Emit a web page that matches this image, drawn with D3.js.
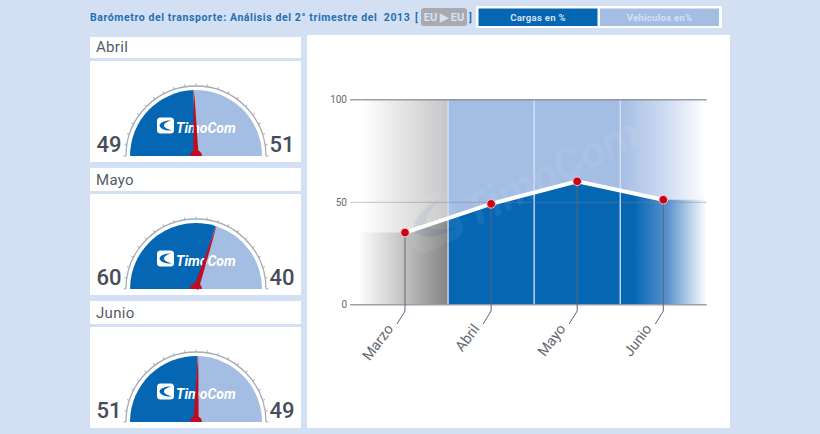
<!DOCTYPE html>
<html>
<head>
<meta charset="utf-8">
<title>Barómetro del transporte</title>
<script src="https://d3js.org/d3.v7.min.js"></script>
<style>
    html, body { margin: 0; padding: 0; background: #d3dff2; }
    svg { display: block; }
    text { font-family: Roboto, "Open Sans", sans-serif; }
</style>
</head>
<body>
<div id="chart"></div>
<script>
(function () {
    "use strict";

    var months = ["Marzo", "Abril", "Mayo", "Junio"],
        cargas = [35, 49, 60, 51],
        gaugeMonths = ["Abril", "Mayo", "Junio"],
        gaugeCargas = [49, 60, 51],
        gaugeVehiculos = [51, 40, 49],
        yTicks = [0, 50, 100],
        blue = "#0567b4",
        lightBlue = "#a4bde3",
        svg = d3.select("#chart").append("svg").attr("width", 820).attr("height", 434),
        defs = svg.append("defs"),
        needleAngle = d3.scaleLinear().domain([0, 100]).range([-90, 90]),
        x = d3.scalePoint().domain(months).range([405, 663.3]),
        y = d3.scaleLinear().domain([0, 100]).range([304.3, 99.3]),
        bandEdge = x.step() / 2;

    function gradient(id, x1, x2, stops) {
        var g = defs.append("linearGradient").attr("id", id)
            .attr("gradientUnits", "userSpaceOnUse")
            .attr("x1", x1).attr("x2", x2).attr("y1", 0).attr("y2", 0);
        stops.forEach(function (s) {
            g.append("stop").attr("offset", s[0]).attr("stop-color", s[1]);
        });
    }

    function logo(g, dx, baseline, scale, opacity) {
        var l = g.append("g").attr("transform", "translate(" + dx + "," + baseline + ") scale(" + scale + ")").attr("opacity", opacity);
        l.append("rect").attr("x", -19).attr("y", -15.5).attr("width", 17).attr("height", 16)
            .attr("rx", 3.5).attr("fill", "#fff");
        l.append("path").attr("d", "M-5,-12.5C-11,-13 -16,-10.5 -16.5,-7.5C-16,-4 -10,-2 -4,-2.5C-9,-4 -12,-5.5 -12,-7.5C-12,-9.5 -9,-11.5 -5,-12.5Z")
            .attr("fill", blue);
        l.append("text").attr("x", 0).attr("y", 0).attr("fill", "#fff")
            .attr("font-size", 14).attr("font-weight", 700).attr("font-style", "italic")
            .text("TimoCom");
    }

    // top strip
    svg.append("text").attr("x", 90).attr("y", 21).attr("fill", "#1f6fb2")
        .attr("font-size", 10.5).attr("font-weight", 700).attr("letter-spacing", 0.6)
        .attr("xml:space", "preserve")
        .text("Barómetro del transporte: Análisis del 2° trimestre del  2013");
    svg.append("text").attr("x", 415).attr("y", 21).attr("fill", "#1f6fb2")
        .attr("font-size", 10).attr("font-weight", 700).text("[");
    svg.append("rect").attr("x", 421).attr("y", 8).attr("width", 46).attr("height", 18)
        .attr("rx", 3).attr("fill", "#a8aab0");
    svg.append("text").attr("x", 444).attr("y", 21).attr("text-anchor", "middle").attr("fill", "#d8e2f2")
        .attr("font-size", 11).attr("font-weight", 700).text("EU ▶ EU");
    svg.append("text").attr("x", 469).attr("y", 21).attr("fill", "#1f6fb2")
        .attr("font-size", 10).attr("font-weight", 700).text("]");

    svg.append("rect").attr("x", 476).attr("y", 6).attr("width", 246).attr("height", 22).attr("fill", "#fff");
    svg.append("rect").attr("x", 478.5).attr("y", 8.5).attr("width", 119).attr("height", 17.5).attr("fill", blue);
    svg.append("rect").attr("x", 600).attr("y", 8.5).attr("width", 119).attr("height", 17.5).attr("fill", lightBlue);
    svg.append("text").attr("x", 538).attr("y", 21).attr("text-anchor", "middle").attr("fill", "#d5e1f2")
        .attr("font-size", 9.5).attr("font-weight", 700).attr("letter-spacing", 0.3).text("Cargas en %");
    svg.append("text").attr("x", 659.5).attr("y", 21).attr("text-anchor", "middle").attr("fill", "#d5e1f2")
        .attr("font-size", 9.5).attr("font-weight", 700).attr("letter-spacing", 0.3).text("Vehiculos en%");

    // gauges
    gaugeMonths.forEach(function (month, i) {
        var baseY = 156 + i * 133,
            top = baseY - (i ? 121 : 119),
            angle = needleAngle(gaugeCargas[i]),
            rad = angle * Math.PI / 180,
            g,
            arc = d3.arc();

        svg.append("rect").attr("x", 90).attr("y", top).attr("width", 211).attr("height", i ? 23 : 21).attr("fill", "#fff");
        svg.append("rect").attr("x", 90).attr("y", baseY - 95).attr("width", 211).attr("height", 101).attr("fill", "#fff");
        svg.append("text").attr("x", 96).attr("y", baseY - 104).attr("fill", "#555a66")
            .attr("font-size", 15).attr("letter-spacing", 0.3).text(month);

        g = svg.append("g").attr("transform", "translate(196," + baseY + ")");

        g.append("path").attr("fill", "none").attr("stroke", "#a6abb4").attr("stroke-width", 1.3)
            .attr("d", d3.arc()({ innerRadius: 70, outerRadius: 70, startAngle: -Math.PI / 2, endAngle: Math.PI / 2 }));
        g.selectAll(".tick").data(d3.range(0, 101, 5)).enter().append("line")
            .attr("stroke", "#a6abb4").attr("stroke-width", 1)
            .attr("transform", function (d) { return "rotate(" + needleAngle(d) + ")"; })
            .attr("y1", -70).attr("y2", -72.5);

        g.append("path").attr("fill", blue).attr("d", arc({
            innerRadius: 0, outerRadius: 66, startAngle: -Math.PI / 2, endAngle: rad
        }));
        g.append("path").attr("fill", lightBlue).attr("d", arc({
            innerRadius: 0, outerRadius: 66, startAngle: rad, endAngle: Math.PI / 2
        }));
        g.append("line").attr("transform", "rotate(" + angle + ")")
            .attr("y1", 0).attr("y2", -66).attr("stroke", "#d8e6f6").attr("stroke-width", 1.2);

        logo(g, -20, -23, 1, 1);

        g.append("path").attr("fill", "#c30a1e").attr("transform", "rotate(" + angle + ")")
            .attr("d", "M-2.6,0L-0.2,-66L0.2,-66L2.6,0Z");
        g.append("path").attr("fill", "#c30a1e").attr("d", arc({
            innerRadius: 0, outerRadius: 6, startAngle: -Math.PI / 2, endAngle: Math.PI / 2
        }));

        svg.append("text").attr("x", 109).attr("y", baseY - 4).attr("text-anchor", "middle")
            .attr("fill", "#474c59").attr("font-size", 22).attr("font-weight", 500).text(gaugeCargas[i]);
        svg.append("text").attr("x", 282).attr("y", baseY - 4).attr("text-anchor", "middle")
            .attr("fill", "#474c59").attr("font-size", 22).attr("font-weight", 500).text(gaugeVehiculos[i]);
    });

    // main panel
    svg.append("rect").attr("x", 307).attr("y", 35).attr("width", 423).attr("height", 393).attr("fill", "#fff");

    (function () {
        var first = x(months[0]),
            split = first + bandEdge,
            left = 350,
            right = 706.7,
            areaPoints = [[left, cargas[0]]]
                .concat(months.map(function (m, i) { return [x(m), cargas[i]]; }))
                .concat([[right, cargas[cargas.length - 1]]]),
            area = d3.area().x(function (d) { return d[0]; }).y0(y(0)).y1(function (d) { return y(d[1]); }),
            line = d3.line().x(function (d) { return x(d.m); }).y(function (d) { return y(d.v); }),
            lineData = months.map(function (m, i) { return { m: m, v: cargas[i] }; }),
            chart = svg.append("g");

        gradient("grayUpper", 362, split, [[0, "#ffffff"], [1, "#c6c6c8"]]);
        gradient("grayLower", 358, split, [[0, "#ffffff"], [0.45, "#c9c9c9"], [1, "#838383"]]);
        gradient("blueUpper", split, right, [[0, lightBlue], [0.66, lightBlue], [0.83, "#ccd9f0"], [1, "#ffffff"]]);
        gradient("blueLower", split, right, [[0, blue], [0.72, blue], [0.85, "#5c92cd"], [1, "#ffffff"]]);

        defs.append("clipPath").attr("id", "clipGray").append("rect")
            .attr("x", left).attr("y", y(100)).attr("width", split - left).attr("height", y(0) - y(100));
        defs.append("clipPath").attr("id", "clipBlue").append("rect")
            .attr("x", split).attr("y", y(100)).attr("width", right - split).attr("height", y(0) - y(100));

        chart.append("rect").attr("x", left).attr("y", y(100)).attr("width", split - left)
            .attr("height", y(0) - y(100)).attr("fill", "url(#grayUpper)");
        chart.append("rect").attr("x", split).attr("y", y(100)).attr("width", right - split)
            .attr("height", y(0) - y(100)).attr("fill", "url(#blueUpper)");
        chart.append("path").attr("clip-path", "url(#clipGray)").attr("fill", "url(#grayLower)").attr("d", area(areaPoints));
        chart.append("path").attr("clip-path", "url(#clipBlue)").attr("fill", "url(#blueLower)").attr("d", area(areaPoints));

        // faint watermark
        (function () {
            var w = chart.append("g").attr("transform", "translate(472,229) rotate(-26.5)");
            logo(w, 0, 0, 3.2, 0.06);
        }());

        chart.selectAll(".band").data(months.slice(0, -1)).enter().append("line")
            .attr("x1", function (m) { return x(m) + bandEdge; })
            .attr("x2", function (m) { return x(m) + bandEdge; })
            .attr("y1", y(100)).attr("y2", y(0))
            .attr("stroke", "#d7e2f4").attr("stroke-width", 1.3);

        chart.append("g").attr("transform", "translate(350,0)")
            .call(d3.axisLeft(y).tickValues(yTicks).tickSize(-(right - left)).tickPadding(3))
            .call(function (a) {
                a.select(".domain").remove();
                a.selectAll(".tick line")
                    .attr("stroke", "#7e8290")
                    .attr("stroke-opacity", function (d) { return d === 50 ? 0.45 : 0.75; })
                    .attr("stroke-width", function (d) { return d === 50 ? 1 : 1.6; });
                a.selectAll(".tick text")
                    .attr("fill", "#666a72").attr("font-size", 10)
                    .style("font-family", "Roboto, sans-serif");
            });

        // leader lines down to the rotated month labels
        chart.selectAll(".leader").data(lineData).enter().append("path")
            .attr("fill", "none").attr("stroke", "#5f6472").attr("stroke-width", 1)
            .attr("d", function (d) {
                var px = x(d.m);
                return d3.line()([[px, y(d.v)], [px, 311], [px - 8, 324]]);
            });
        chart.selectAll(".month").data(months).enter().append("text")
            .attr("transform", function (m) { return "translate(" + (x(m) - 11) + ",329) rotate(-53)"; })
            .attr("text-anchor", "end").attr("fill", "#666a72")
            .attr("font-size", 14.5)
            .text(function (m) { return m; });

        chart.append("path").attr("fill", "none").attr("stroke", "#fff").attr("stroke-width", 4)
            .attr("d", line(lineData));
        chart.selectAll(".point").data(lineData).enter().append("circle")
            .attr("cx", function (d) { return x(d.m); })
            .attr("cy", function (d) { return y(d.v); })
            .attr("r", 4.3).attr("fill", "#cc0014").attr("stroke", "#f3c9cf").attr("stroke-width", 1);
    }());
}());
</script>
</body>
</html>
